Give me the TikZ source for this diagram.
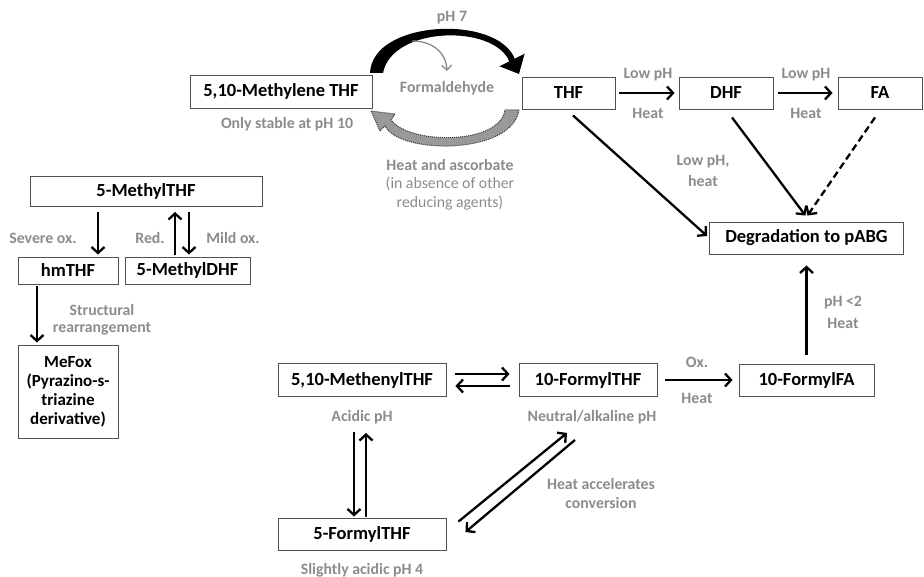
\documentclass[tikz,border=0pt]{standalone}
\usepackage{fontspec}
\setmainfont{Carlito}
\usetikzlibrary{arrows.meta,calc}
\definecolor{labgray}{RGB}{140,140,140}
\definecolor{boxline}{RGB}{80,80,80}
\begin{document}
\begin{tikzpicture}[x=1pt,y=-1pt,
  box/.style={draw=boxline, line width=0.9pt, fill=white, inner sep=0pt, align=center, font=\bfseries\fontsize{18.5}{19}\selectfont},
  lab/.style={text=labgray, inner sep=0pt, align=center, font=\bfseries\fontsize{15.8}{19}\selectfont},
  labr/.style={text=labgray, inner sep=0pt, align=center, font=\fontsize{15.8}{19}\selectfont},
  arr/.style={line width=2.3pt, -{Straight Barb[length=6pt,width=13pt]}},
]
\useasboundingbox (0,0) rectangle (924,577);

% boxes
\node[box, minimum width=182pt, minimum height=33pt] (meth) at (281,91.5) {5,10-Methylene THF};
\node[box, minimum width=93pt, minimum height=32pt] (thf) at (568.5,93) {THF};
\node[box, minimum width=94pt, minimum height=32pt] (dhf) at (726,93) {DHF};
\node[box, minimum width=84pt, minimum height=32pt] (fa) at (880,93) {FA};
\node[box, minimum width=194pt, minimum height=32pt] (deg) at (806.5,238) {Degradation to pABG};
\node[box, minimum width=135pt, minimum height=32pt] (ffa) at (806.5,380) {10-FormylFA};
\node[box, minimum width=138pt, minimum height=33pt] (fthf) at (588,380) {10-FormylTHF};
\node[box, minimum width=168pt, minimum height=33pt] (menyl) at (362,380) {5,10-MethenylTHF};
\node[box, minimum width=168pt, minimum height=32pt] (fthf5) at (362,534) {5-FormylTHF};
\node[box, minimum width=232pt, minimum height=30pt] (mthf) at (146,191.5) {5-MethylTHF};
\node[box, minimum width=100pt, minimum height=27pt] (hm) at (68,270.5) {hmTHF};
\node[box, minimum width=125pt, minimum height=27pt] (mdhf) at (187.5,270.5) {5-MethylDHF};
\node[box, minimum width=100pt, minimum height=93pt, font=\bfseries\fontsize{17}{19}\selectfont] (mefox) at (68,391.5) {MeFox\\(Pyrazino-s-\\triazine\\derivative)};

% labels
\node[lab] (ph7) at (452,18) {pH 7};
\node[lab] (fald) at (447,88) {Formaldehyde};
\node[lab] (stab) at (287,124) {Only stable at pH 10};
\node[lab] (heatasc) at (450,165) {Heat and ascorbate};
\node[labr] (abs1) at (450,184) {(in absence of other};
\node[labr] (abs2) at (450,203) {reducing agents)};
\node[lab] (l1a) at (648,75) {Low pH};
\node[lab] (l1b) at (648,113) {Heat};
\node[lab] (l2a) at (806,75) {Low pH};
\node[lab] (l2b) at (806,113) {Heat};
\node[lab] (l3a) at (703,162) {Low pH,};
\node[lab] (l3b) at (703,181) {heat};
\node[lab] (l4a) at (843,303) {pH <2};
\node[lab] (l4b) at (843,323) {Heat};
\node[lab] (l5a) at (697,362) {Ox.};
\node[lab] (l5b) at (697,398) {Heat};
\node[lab] (acid) at (362,417) {Acidic pH};
\node[lab] (neut) at (592,417) {Neutral/alkaline pH};
\node[lab] (hacc1) at (601,484) {Heat accelerates};
\node[lab] (hacc2) at (601,503) {conversion};
\node[lab] (sl) at (362,570) {Slightly acidic pH 4};
\node[lab] (sev) at (43,238) {Severe ox.};
\node[lab] (red) at (150,238) {Red.};
\node[lab] (mild) at (233,238) {Mild ox.};
\node[lab] (str1) at (102,310) {Structural};
\node[lab] (str2) at (102,329) {rearrangement};

% top curved arrows
\fill[black] (370,73) .. controls (372,20) and (497,14) .. (514.7,58.7) -- (524.6,53.7) -- (519,74) -- (499.4,66.3) -- (509.3,61.4) .. controls (494,24) and (392,26) .. (383,73) -- cycle;
\coordinate (gstart) at (412,41);
\draw[labgray, line width=1.3pt, -{Straight Barb[length=5pt,width=10pt]}] (gstart) .. controls (432,41) and (446,52) .. ([yshift=10pt]fald.north);
\filldraw[fill=black!40, draw=black!80, line width=1pt, densely dotted] (519,110) .. controls (512,155) and (400,155) .. (385,126) -- (380,131) -- (371,111) -- (395,114) -- (391,120) .. controls (410,145) and (500,145) .. (505,110) -- cycle;

% right side arrows
\draw[arr] ([xshift=4pt]thf.east) -- ([xshift=-4pt]dhf.west);
\draw[arr] ([xshift=5pt]dhf.east) -- ([xshift=-5pt]fa.west);
\draw[arr] ([xshift=4.5pt,yshift=-6pt]thf.south) -- ([xshift=-2pt,yshift=2pt]deg.west);
\draw[arr] ([xshift=6pt,yshift=-8pt]dhf.south) -- ([xshift=-1pt,yshift=6pt]deg.north);
\draw[arr, dash pattern=on 7pt off 4pt] ([xshift=-5pt,yshift=-8pt]fa.south) -- ([xshift=1pt,yshift=6pt]deg.north);
\draw[arr] ([yshift=9pt]ffa.north) -- ([yshift=-11pt]deg.south);
\draw[arr] ([xshift=8pt]fthf.east) -- ([xshift=-6pt]ffa.west);

% bottom arrows
\draw[arr] ([xshift=9pt,yshift=6pt]menyl.east) -- ([xshift=-9pt,yshift=6pt]fthf.west);
\draw[arr] ([xshift=-9pt,yshift=-6pt]fthf.west) -- ([xshift=9pt,yshift=-6pt]menyl.east);
\draw[arr] ([xshift=-8pt,yshift=-35pt]menyl.south) -- ([xshift=-8pt,yshift=1pt]fthf5.north);
\draw[arr] ([xshift=4pt,yshift=1pt]fthf5.north) -- ([xshift=4pt,yshift=-36pt]menyl.south);
\draw[arr] ([xshift=12pt,yshift=-4pt]fthf5.north east) -- ([xshift=-21pt,yshift=-36pt]fthf.south);
\draw[arr] ([xshift=-13pt,yshift=-43pt]fthf.south) -- ([xshift=19pt,yshift=2pt]fthf5.east);

% left arrows
\draw[arr] ([xshift=-48pt,yshift=-5pt]mthf.south) -- ([xshift=30pt,yshift=2pt]hm.north);
\draw[arr] ([xshift=-12.5pt,yshift=2pt]mdhf.north) -- ([xshift=29pt,yshift=-5pt]mthf.south);
\draw[arr] ([xshift=43pt,yshift=-5pt]mthf.south) -- ([xshift=1.5pt,yshift=2pt]mdhf.north);
\draw[arr] ([xshift=-31pt,yshift=-2pt]hm.south) -- ([xshift=-31pt,yshift=2pt]mefox.north);
\end{tikzpicture}
\end{document}
